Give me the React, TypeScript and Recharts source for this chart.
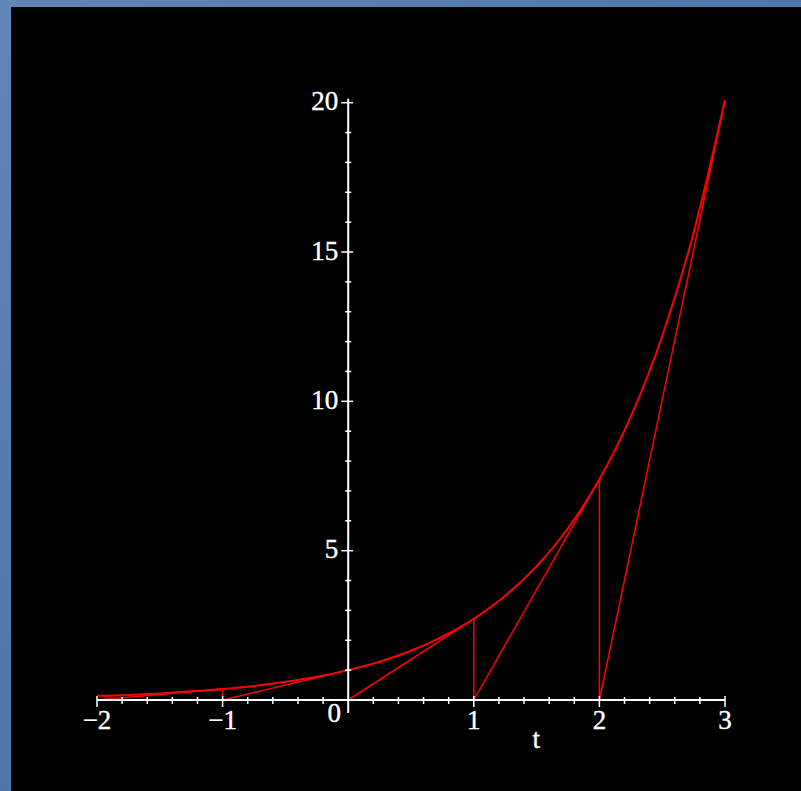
import React from 'react';
import { LineChart, Line, XAxis, YAxis, ReferenceLine, ReferenceDot } from 'recharts';

// exponential curve
const curveT = [-2, -1.75, -1.5, -1.25, -1, -0.75, -0.5, -0.25, 0, 0.25, 0.5, 0.75, 1, 1.25, 1.5, 1.75, 2, 2.25, 2.5, 2.75, 3];
const curveY = [0.14, 0.17, 0.22, 0.29, 0.37, 0.47, 0.61, 0.78, 1.0, 1.28, 1.65, 2.12, 2.72, 3.49, 4.48, 5.75, 7.39, 9.49, 12.18, 15.64, 20.09];

// tangent segments: start on the t-axis, end on the curve
const tangentStartT = [-2, -1, 0, 1, 2];
const tangentEndT = [-1, 0, 1, 2, 3];
const tangentEndY = [0.37, 1.0, 2.72, 7.39, 20.09];

// vertical segments from the axis up to the curve
const verticalT = [-1, 1, 2];
const verticalY = [0.37, 2.72, 7.39];

const xMajorTicks = [-2, -1, 1, 2, 3];
const yMajorTicks = [5, 10, 15, 20];
const yLabels = ['5', '10', '15', '20'];

const curveData = curveT.map((t, i) => ({ t, y: curveY[i] }));
const tangentData = tangentStartT.map((t, i) => [
  { t, y: 0 },
  { t: tangentEndT[i], y: tangentEndY[i] },
]);
const verticalData = verticalT.map((t, i) => [
  { t, y: 0 },
  { t, y: verticalY[i] },
]);

const xMinor: number[] = [];
for (let k = -10; k <= 15; k++) {
  if (k % 5 !== 0) xMinor.push(k / 5);
}
const yMinor: number[] = [];
for (let k = 1; k < 20; k++) {
  if (k % 5 !== 0) yMinor.push(k);
}

const FONT = '"Liberation Serif", "DejaVu Serif", serif';
const FS = 27;
const RED = '#ff0000';
const WHITE = '#ffffff';

// pixel → data unit conversions for small tick sizes
const PX_X = 5 / 628; // t units per px
const PX_Y = 20 / 600; // y units per px

export default function App() {
  return (
    <div style={{ position: 'absolute', left: 0, top: 0, width: 801, height: 791, background: 'linear-gradient(135deg, #5f86b6 0%, #4f76a8 50%, #6088b8 100%)' }}>
      <div style={{ position: 'absolute', left: 11, top: 7, width: 790, height: 784, background: '#000' }}>
        <LineChart width={790} height={784} margin={{ top: 93, right: 76, left: 86, bottom: 61 }}>
          <XAxis
            dataKey="t"
            type="number"
            domain={[-2, 3]}
            ticks={xMajorTicks}
            allowDuplicatedCategory={false}
            tickFormatter={(v: number) => (v < 0 ? '\u2212' + Math.abs(v) : String(v))}
            axisLine={{ stroke: WHITE, strokeWidth: 2 }}
            tickLine={false}
            tickMargin={4}
            height={30}
            tick={{ fill: WHITE, fontFamily: FONT, fontSize: FS, stroke: WHITE, strokeWidth: 0.4 }}
          />
          <YAxis type="number" domain={[0, 20]} hide width={0} />

          {tangentData.map((d, i) => (
            <Line key={'tan' + i} data={d} dataKey="y" stroke={RED} strokeWidth={1.5} dot={false} isAnimationActive={false} />
          ))}
          {verticalData.map((d, i) => (
            <Line key={'ver' + i} data={d} dataKey="y" stroke={RED} strokeWidth={1.5} dot={false} isAnimationActive={false} />
          ))}
          <Line data={curveData} dataKey="y" type="monotone" stroke={RED} strokeWidth={2} dot={false} isAnimationActive={false} />

          {/* y axis */}
          <ReferenceLine
            segment={[{ x: 0, y: -13 * PX_Y }, { x: 0, y: 20 + 4 * PX_Y }]}
            stroke={WHITE}
            strokeWidth={2}
            ifOverflow="visible"
          />
          {yMinor.map((v) => (
            <ReferenceLine
              key={'ym' + v}
              segment={[{ x: -3 * PX_X, y: v }, { x: 3 * PX_X, y: v }]}
              stroke={WHITE}
              strokeWidth={1.5}
              ifOverflow="visible"
            />
          ))}
          {yMajorTicks.map((v, i) => (
            <ReferenceLine
              key={'yM' + v}
              segment={[{ x: -7 * PX_X, y: v }, { x: 5 * PX_X, y: v }]}
              stroke={WHITE}
              strokeWidth={1.5}
              ifOverflow="visible"
              label={{ value: yLabels[i], position: 'left', offset: 3, dy: -2, fill: WHITE, stroke: WHITE, strokeWidth: 0.4, fontFamily: FONT, fontSize: FS }}
            />
          ))}

          {/* x ticks */}
          {xMinor.map((v) => (
            <ReferenceLine
              key={'xm' + v}
              segment={[{ x: v, y: 3 * PX_Y }, { x: v, y: -4 * PX_Y }]}
              stroke={WHITE}
              strokeWidth={1.5}
              ifOverflow="visible"
            />
          ))}
          {xMajorTicks.map((v) => (
            <ReferenceLine
              key={'xM' + v}
              segment={[{ x: v, y: 4 * PX_Y }, { x: v, y: -7 * PX_Y }]}
              stroke={WHITE}
              strokeWidth={1.5}
              ifOverflow="visible"
            />
          ))}

          {/* origin label */}
          <ReferenceDot
            x={-14 * PX_X}
            y={-12 * PX_Y}
            r={0}
            fill="none"
            stroke="none"
            ifOverflow="visible"
            label={{ value: '0', position: 'center', fill: WHITE, stroke: WHITE, strokeWidth: 0.4, fontFamily: FONT, fontSize: FS }}
          />
          {/* axis title */}
          <ReferenceDot
            x={188 * PX_X}
            y={-39 * PX_Y}
            r={0}
            fill="none"
            stroke="none"
            ifOverflow="visible"
            label={{ value: 't', position: 'center', fill: WHITE, stroke: WHITE, strokeWidth: 0.4, fontFamily: FONT, fontSize: FS }}
          />
        </LineChart>
      </div>
    </div>
  );
}
